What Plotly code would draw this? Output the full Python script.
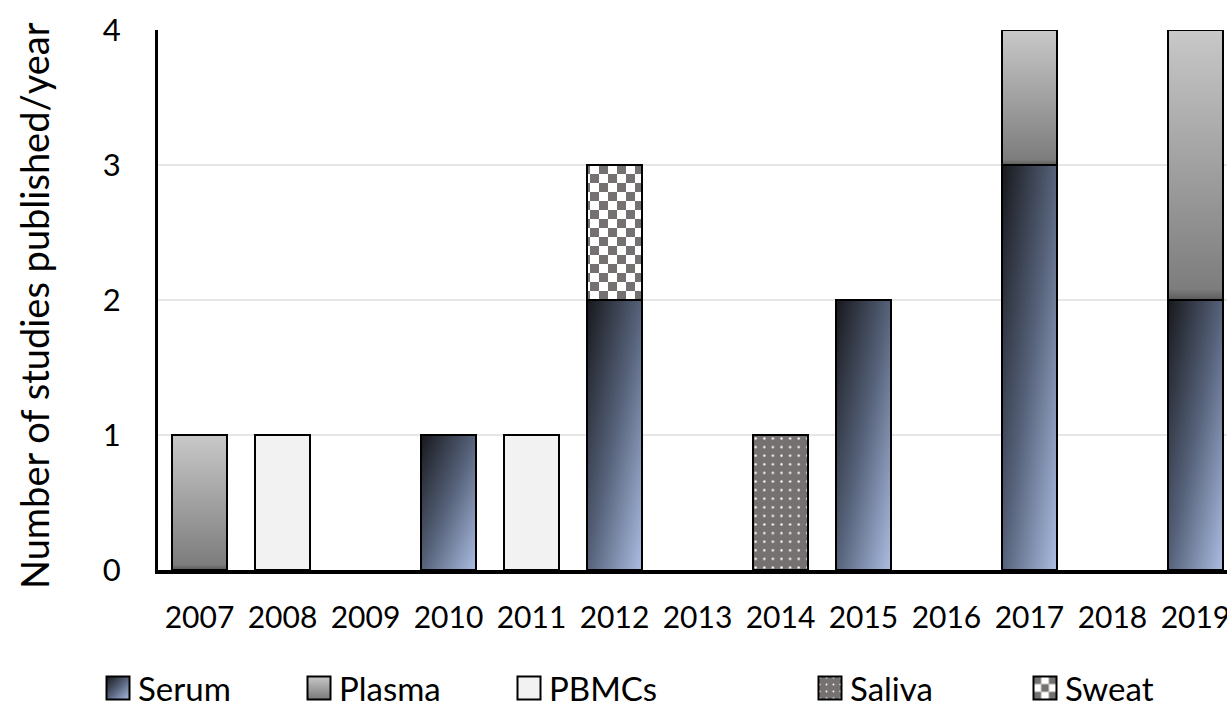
import plotly.graph_objects as go

years = ["2007", "2008", "2009", "2010", "2011", "2012", "2013",
         "2014", "2015", "2016", "2017", "2018", "2019"]
serum = [None, None, None, 1, None, 2, None, None, 2, None, 3, None, 2]
plasma = [1, None, None, None, None, None, None, None, None, None, 1, None, 2]
pbmcs = [None, 1, None, None, 1, None, None, None, None, None, None, None, None]
saliva = [None, None, None, None, None, None, None, 1, None, None, None, None, None]
sweat = [None, None, None, None, None, 1, None, None, None, None, None, None, None]

series_names = ["Serum", "Plasma", "PBMCs", "Saliva", "Sweat"]
series_values = [serum, plasma, pbmcs, saliva, sweat]
base_colors = ["#5a6780", "#a0a0a0", "#f2f2f2", "#767171", "#b0aeae"]
legend_ids = ["legend2", "legend3", "legend4", "legend5", "legend6"]
legend_centers_px = [120, 321, 531, 832, 1047]

FONT = "Lato"
W, H = 1227, 702
L, R, T, B = 158, 0, 30, 132

fig = go.Figure()
for name, vals, col, lid in zip(series_names, series_values, base_colors, legend_ids):
    marker = dict(color=col, line=dict(color="#000000", width=2.2))
    if name == "Saliva":
        marker["pattern"] = dict(shape=".", fgcolor="#ffffff", bgcolor="#767171",
                                 size=8.6, solidity=0.06, fillmode="replace")
    fig.add_trace(go.Bar(x=years, y=vals, name=name, marker=marker, legend=lid))

fig.update_layout(
    width=W, height=H,
    barmode="stack", bargap=0.34,
    paper_bgcolor="white", plot_bgcolor="white",
    margin=dict(l=L, r=R, t=T, b=B, autoexpand=False),
    font=dict(family=FONT, size=30, color="#000000"),
    legend=dict(visible=False),
)
for lid, cx in zip(legend_ids, legend_centers_px):
    fig.update_layout({lid: dict(
        xref="container", yref="container",
        x=(cx - 22) / W, xanchor="left",
        y=1 - 688 / H, yanchor="middle",
        bgcolor="rgba(0,0,0,0)",
        font=dict(family=FONT, size=33, color="#000000"),
    )})

fig.update_xaxes(
    type="category", range=[-0.5, 12.38],
    showline=True, linecolor="#000000", linewidth=3.5,
    showgrid=False, ticks="", ticklabelstandoff=18,
    tickfont=dict(family=FONT, size=30),
    automargin=False,
)
fig.update_yaxes(
    range=[0, 4], dtick=1,
    showline=True, linecolor="#000000", linewidth=3,
    showgrid=True, gridcolor="#e6e6e6", gridwidth=2,
    zeroline=False, ticks="", ticklabelstandoff=28,
    tickfont=dict(family=FONT, size=31),
    automargin=False,
)
plot_w = W - L - R
plot_h = H - T - B
fig.add_annotation(
    text="Number of studies published/year", textangle=-90,
    xref="paper", yref="paper",
    x=(34 - L) / plot_w, y=(H - B - 306) / plot_h,
    xanchor="center", yanchor="middle", showarrow=False,
    font=dict(family=FONT, size=38, color="#000000"),
)

post_js = r"""
document.body.style.margin = '0';
document.body.style.padding = '0';
var gd = document.getElementById('{plot_id}');
var NS = 'http://www.w3.org/2000/svg';
function el(tag, attrs, parent) {
  var e = document.createElementNS(NS, tag);
  for (var k in attrs) e.setAttribute(k, attrs[k]);
  if (parent) parent.appendChild(e);
  return e;
}
var holder = el('svg', {width: 0, height: 0, style: 'position:absolute;width:0;height:0'});
document.body.insertBefore(holder, document.body.firstChild);
var defs = el('defs', {}, holder);
var g1 = el('linearGradient', {id: 'gSerum', x1: '0', y1: '0', x2: '1', y2: '1'}, defs);
el('stop', {offset: '0', 'stop-color': '#17181c'}, g1);
el('stop', {offset: '0.5', 'stop-color': '#56627a'}, g1);
el('stop', {offset: '1', 'stop-color': '#abbde2'}, g1);
var g2 = el('linearGradient', {id: 'gPlasma', x1: '0', y1: '0', x2: '0', y2: '1'}, defs);
el('stop', {offset: '0', 'stop-color': '#c8c8c8'}, g2);
el('stop', {offset: '0.96', 'stop-color': '#7d7d7d'}, g2);
el('stop', {offset: '1', 'stop-color': '#5a5a5a'}, g2);
var p1 = el('pattern', {id: 'pSweat', width: 18, height: 18, patternUnits: 'userSpaceOnUse'}, defs);
el('rect', {x: 0, y: 0, width: 18, height: 18, fill: '#ffffff'}, p1);
el('rect', {x: 0, y: 0, width: 9, height: 9, fill: '#767171'}, p1);
el('rect', {x: 9, y: 9, width: 9, height: 9, fill: '#767171'}, p1);
var p2 = el('pattern', {id: 'pSweatL', width: 23, height: 23, x: -11.5, y: -11.5, patternUnits: 'userSpaceOnUse'}, defs);
el('rect', {x: 0, y: 0, width: 23, height: 23, fill: '#ffffff'}, p2);
var s = 23 / 3;
[[0,0],[2,0],[1,1],[0,2],[2,2]].forEach(function(c) {
  el('rect', {x: c[0]*s, y: c[1]*s, width: s, height: s, fill: '#767171'}, p2);
});
var fills = {'Serum': 'url(#gSerum)', 'Plasma': 'url(#gPlasma)', 'Sweat': 'url(#pSweat)'};
var lfills = {'Serum': 'url(#gSerum)', 'Plasma': 'url(#gPlasma)', 'Sweat': 'url(#pSweatL)'};
var legendFill = {'legend2': 'url(#gSerum)', 'legend3': 'url(#gPlasma)', 'legend6': 'url(#pSweatL)'};
function setImp(p, prop, val) {
  if (p.style.getPropertyValue(prop) !== val || p.style.getPropertyPriority(prop) !== 'important')
    p.style.setProperty(prop, val, 'important');
}
function findName(d) {
  for (var depth = 0; depth < 4 && d; depth++) {
    if (d.trace && d.trace.name) return d.trace.name;
    if (d.name && typeof d.name === 'string') return d.name;
    d = d[0];
  }
  return '';
}
function legendIdOf(node) {
  while (node && node !== gd) {
    if (node.classList) {
      for (var i = 0; i < node.classList.length; i++) {
        var c = node.classList[i];
        if (/^legend\d*$/.test(c)) return c;
      }
    }
    node = node.parentNode;
  }
  return '';
}
function apply() {
  gd.querySelectorAll('.barlayer .trace').forEach(function(tg) {
    var f = fills[findName(tg.__data__)];
    if (!f) return;
    tg.querySelectorAll('path').forEach(function(p) { setImp(p, 'fill', f); });
  });
  gd.querySelectorAll('g.legendpoints').forEach(function(lp) {
    var tg = lp.parentNode;
    var name = findName(tg.__data__) || findName(lp.__data__);
    if (!name) {
      var t = tg.querySelector('text');
      name = t ? t.textContent.trim() : '';
    }
    var f = lfills[name] || legendFill[legendIdOf(lp)];
    lp.querySelectorAll('path').forEach(function(p) {
      if (p.getAttribute('d') !== 'M11.5,11.5H-11.5V-11.5H11.5Z')
        p.setAttribute('d', 'M11.5,11.5H-11.5V-11.5H11.5Z');
      setImp(p, 'stroke-width', '2px');
      setImp(p, 'stroke', '#000000');
      if (f) setImp(p, 'fill', f);
    });
  });
}
apply();
gd.on('plotly_afterplot', apply);
var mo = new MutationObserver(function() { apply(); });
mo.observe(gd, {subtree: true, childList: true, attributes: true, attributeFilter: ['style', 'd']});
setTimeout(apply, 50);
setTimeout(apply, 300);
"""

fig.write_html("out.html", post_script=post_js, config={"displayModeBar": False})
